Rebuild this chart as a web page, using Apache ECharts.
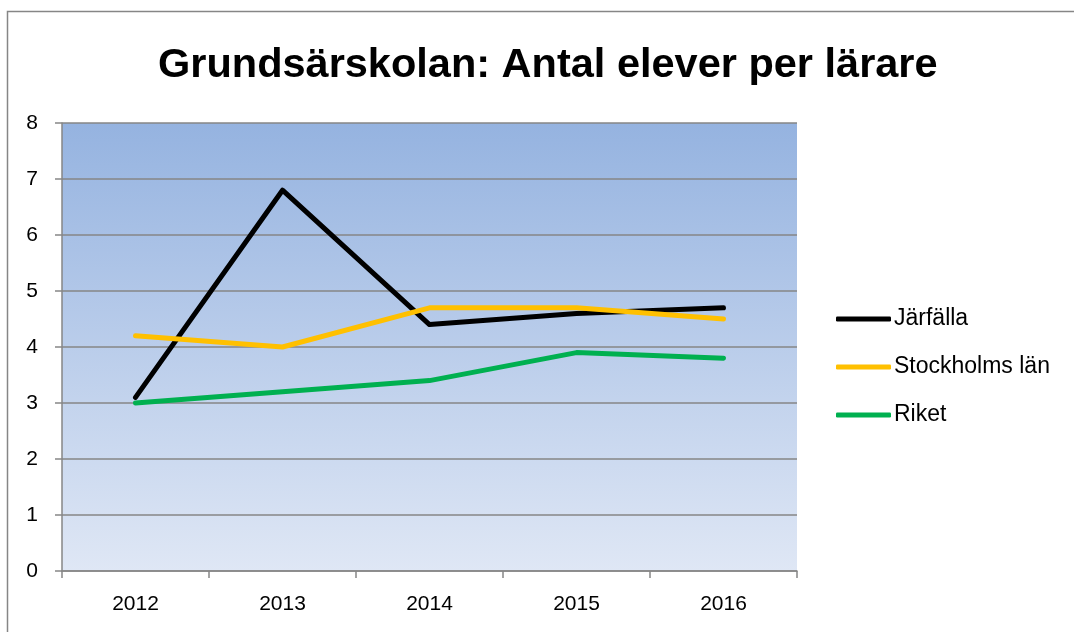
<!DOCTYPE html>
<html>
<head>
<meta charset="utf-8">
<script src="https://cdn.jsdelivr.net/npm/echarts@6/dist/echarts.min.js"></script>
<style>
  html, body { margin: 0; padding: 0; background: #fff; }
  #main { width: 1074px; height: 632px; }
</style>
</head>
<body>
<div id="main"></div>
<script>
var years = ["2012", "2013", "2014", "2015", "2016"];
var jarfalla = [3.1, 6.8, 4.4, 4.6, 4.7];
var stockholm = [4.2, 4.0, 4.7, 4.7, 4.5];
var riket = [3.0, 3.2, 3.4, 3.9, 3.8];

var myChart = echarts.init(document.getElementById("main"));

var gray = "#868686";
var font = "'Liberation Sans', Arial, sans-serif";

var option = {
  animation: false,
  title: {
    text: "Grundsärskolan: Antal elever per lärare",
    left: 158,
    top: 45,
    padding: 0,
    textStyle: {
      fontFamily: font,
      fontSize: 41.5,
      fontWeight: "bold",
      color: "#000"
    }
  },
  legend: {
    orient: "vertical",
    left: 836,
    top: 307,
    padding: 0,
    itemWidth: 55,
    itemHeight: 5,
    itemGap: 24,
    icon: "roundRect",
    textStyle: {
      fontFamily: font,
      fontSize: 23,
      lineHeight: 24,
      color: "#000",
      padding: [0, 0, 0, -2]
    },
    data: ["Järfälla", "Stockholms län", "Riket"]
  },
  grid: {
    left: 62,
    right: 277,
    top: 123,
    bottom: 61,
    show: true,
    borderWidth: 0,
    backgroundColor: new echarts.graphic.LinearGradient(0, 0, 0, 1, [
      { offset: 0, color: "#95b3e0" },
      { offset: 1, color: "#dfe7f5" }
    ])
  },
  xAxis: {
    type: "category",
    data: years,
    boundaryGap: true,
    axisLine: { lineStyle: { color: gray, width: 1.5 } },
    axisTick: { show: true, length: 7, lineStyle: { color: gray, width: 1.5 } },
    axisLabel: {
      margin: 23,
      fontFamily: font,
      fontSize: 21,
      color: "#000"
    }
  },
  yAxis: {
    type: "value",
    min: 0,
    max: 8,
    interval: 1,
    axisLine: { show: true, lineStyle: { color: gray, width: 1.5 } },
    axisTick: { show: true, length: 7, lineStyle: { color: gray, width: 1.5 } },
    splitLine: { show: true, lineStyle: { color: gray, width: 1.5 } },
    axisLabel: {
      margin: 24,
      fontFamily: font,
      fontSize: 21,
      color: "#000"
    }
  },
  series: [
    {
      name: "Järfälla",
      type: "line",
      data: jarfalla,
      showSymbol: false,
      symbol: "none",
      itemStyle: { color: "#000000" },
      lineStyle: { color: "#000000", width: 5, cap: "round", join: "round" }
    },
    {
      name: "Stockholms län",
      type: "line",
      data: stockholm,
      showSymbol: false,
      symbol: "none",
      itemStyle: { color: "#ffc000" },
      lineStyle: { color: "#ffc000", width: 5, cap: "round", join: "round" }
    },
    {
      name: "Riket",
      type: "line",
      data: riket,
      showSymbol: false,
      symbol: "none",
      itemStyle: { color: "#00b050" },
      lineStyle: { color: "#00b050", width: 5, cap: "round", join: "round" }
    }
  ],
  graphic: [
    {
      type: "rect",
      silent: true,
      shape: { x: 7.5, y: 11.5, width: 1100, height: 700 },
      style: { fill: "none", stroke: gray, lineWidth: 1.5 }
    }
  ]
};

myChart.setOption(option);
</script>
</body>
</html>
